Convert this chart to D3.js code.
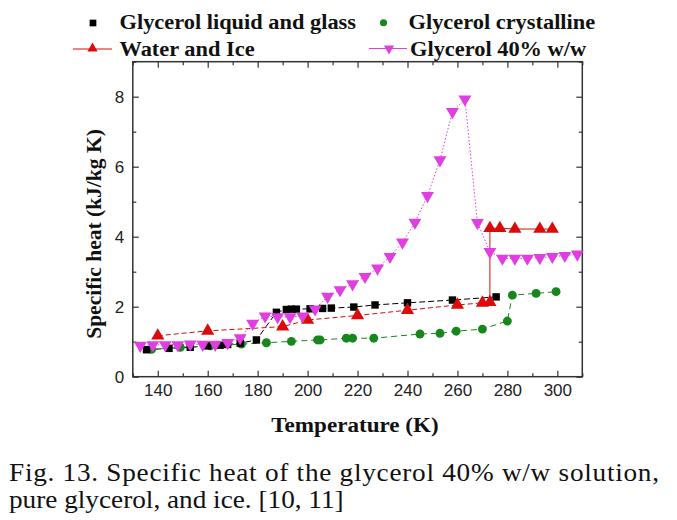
<!DOCTYPE html>
<html lang="en">
<head>
<meta charset="UTF-8">
<title>Specific heat of glycerol solution</title>
<script src="https://d3js.org/d3.v7.min.js"></script>
<style>
  body { margin: 0; background: #fff; }
  .axis .domain { display: none; }
  .axis line { stroke: #333; stroke-width: 1.2; }
  .axis text { font-family: 'Liberation Sans', Arial, sans-serif; font-size: 17px; fill: #222; }
</style>
</head>
<body>
<svg width="677" height="520"></svg>
<script>
// values (T in K, Cp in kJ/kg K)
var glassT  = [135.5, 144.5, 153, 160, 165, 168, 173, 179.5, 187.5, 191.5, 193.5, 195.5, 201, 206, 209.5, 218.5, 227, 240, 258, 275.5];
var glassCp = [0.77, 0.81, 0.84, 0.88, 0.9, 0.92, 0.96, 1.05, 1.84, 1.92, 1.93, 1.93, 1.94, 1.95, 1.96, 1.99, 2.05, 2.11, 2.19, 2.28];

var crystT  = [137.5, 149, 161, 173.5, 183.5, 193.5, 204, 205, 215.5, 218, 226.5, 245, 253, 259.5, 270, 280, 282, 291.5, 299.5];
var crystCp = [0.78, 0.84, 0.88, 0.93, 0.97, 1.01, 1.05, 1.05, 1.1, 1.1, 1.1, 1.22, 1.24, 1.3, 1.36, 1.59, 2.33, 2.38, 2.43];

var iceT  = [140, 160, 190, 200, 220, 240, 260, 270, 273];
var iceCp = [1.17, 1.31, 1.43, 1.62, 1.75, 1.9, 2.05, 2.11, 2.13];
var waterT  = [273, 277, 283, 293, 298];
var waterCp = [4.24, 4.24, 4.22, 4.22, 4.22];

var solT  = [133, 138, 143, 148, 153, 158, 163, 168, 173, 178, 183, 188, 193, 198, 203, 208, 213, 218,
             223, 228, 233, 238, 243, 248, 253, 258, 263, 268, 273, 278, 283, 288, 293, 298, 303, 308];
var solCp = [0.89, 0.91, 0.91, 0.91, 0.93, 0.92, 0.92, 0.97, 1.11, 1.52, 1.73, 1.71, 1.71, 1.73, 1.93, 2.29, 2.48, 2.65,
             2.86, 3.1, 3.43, 3.84, 4.41, 5.17, 6.19, 7.57, 7.93, 4.4, 3.57, 3.38, 3.38, 3.38, 3.4, 3.43, 3.46, 3.5];

var xMajor = [140, 160, 180, 200, 220, 240, 260, 280, 300];
var xMinor = [130, 150, 170, 190, 210, 230, 250, 270, 290, 310];
var yMajor = [0, 2, 4, 6, 8];
var yMinor = [1, 3, 5, 7, 9];

var seriesNames = ["Glycerol liquid and glass", "Glycerol crystalline", "Water and Ice", "Glycerol 40% w/w"];

var black = "#000", green = "#17861c", red = "#dc0a0a", magenta = "#e03ee0";

var svg = d3.select("svg");
var x = d3.scaleLinear().domain([130, 310]).range([132.8, 582.3]);
var y = d3.scaleLinear().domain([0, 9]).range([376.7, 61.7]);

function pts(T, C) { return T.map(function(t, i) { return [t, C[i]]; }); }
var line = d3.line().x(function(d) { return x(d[0]); }).y(function(d) { return y(d[1]); });

// frame
svg.append("rect")
    .attr("x", x(130)).attr("y", y(9))
    .attr("width", x(310) - x(130)).attr("height", y(0) - y(9))
    .attr("fill", "none").attr("stroke", "#333").attr("stroke-width", 1.5);

// ticks, all pointing in
svg.append("g").attr("class", "axis").attr("transform", "translate(0," + y(0) + ")")
    .call(d3.axisBottom(x).tickValues(xMajor).tickSize(-6).tickPadding(7));
svg.append("g").attr("class", "axis").attr("transform", "translate(0," + y(0) + ")")
    .call(d3.axisBottom(x).tickValues(xMinor).tickSize(-3.5).tickFormat(""));
svg.append("g").attr("class", "axis").attr("transform", "translate(0," + y(9) + ")")
    .call(d3.axisTop(x).tickValues(xMajor).tickSize(-6).tickFormat(""));
svg.append("g").attr("class", "axis").attr("transform", "translate(0," + y(9) + ")")
    .call(d3.axisTop(x).tickValues(xMinor).tickSize(-3.5).tickFormat(""));
svg.append("g").attr("class", "axis").attr("transform", "translate(" + x(130) + ",0)")
    .call(d3.axisLeft(y).tickValues(yMajor).tickSize(-6).tickPadding(8.5));
svg.append("g").attr("class", "axis").attr("transform", "translate(" + x(130) + ",0)")
    .call(d3.axisLeft(y).tickValues(yMinor).tickSize(-3.5).tickFormat(""));
svg.append("g").attr("class", "axis").attr("transform", "translate(" + x(310) + ",0)")
    .call(d3.axisRight(y).tickValues(yMajor).tickSize(-6).tickFormat(""));
svg.append("g").attr("class", "axis").attr("transform", "translate(" + x(310) + ",0)")
    .call(d3.axisRight(y).tickValues(yMinor).tickSize(-3.5).tickFormat(""));

// lines
function drawLine(data, color, dash, w) {
    svg.append("path").datum(data)
        .attr("d", line).attr("fill", "none")
        .attr("stroke", color).attr("stroke-width", w || 1)
        .attr("stroke-dasharray", dash);
}
drawLine(pts(glassT, glassCp), black, "6,3");
drawLine(pts(crystT, crystCp), green, "6,4");
drawLine(pts(iceT, iceCp), red, "5,3");
drawLine([[iceT[iceT.length - 1], iceCp[iceCp.length - 1]], [waterT[0], waterCp[0]]], red, null);
drawLine(pts(waterT, waterCp), red, null);
drawLine(pts(solT, solCp), magenta, "1.5,2");

// markers
function drawMarks(data, type, size, color, rot) {
    svg.append("g").selectAll("path").data(data).enter().append("path")
        .attr("d", d3.symbol().type(type).size(size))
        .attr("transform", function(d) { return "translate(" + x(d[0]) + "," + y(d[1]) + ")" + (rot ? " rotate(180)" : ""); })
        .attr("fill", color);
}
drawMarks(pts(crystT, crystCp), d3.symbolCircle, 62, green);
drawMarks(pts(glassT, glassCp), d3.symbolSquare, 55, black);
drawMarks(pts(iceT, iceCp).concat(pts(waterT, waterCp)), d3.symbolTriangle, 75, red);
drawMarks(pts(solT, solCp), d3.symbolTriangle, 72, magenta, true);

// text helper (figure is slightly stretched horizontally)
function label(px, py, str, size, bold, sx, anchor) {
    return svg.append("text")
        .attr("transform", "translate(" + px + "," + py + ") scale(" + sx + ",1)")
        .attr("font-family", "'Liberation Serif', 'Times New Roman', serif")
        .attr("font-size", size)
        .attr("font-weight", bold ? "bold" : "normal")
        .attr("text-anchor", anchor || "start")
        .attr("fill", "#111")
        .text(str);
}

// legend
svg.append("path").attr("d", d3.symbol().type(d3.symbolSquare).size(45)).attr("transform", "translate(93,23)").attr("fill", black);
label(119.5, 28.5, seriesNames[0], 20, true, 1.12);
svg.append("path").attr("d", d3.symbol().type(d3.symbolCircle).size(40)).attr("transform", "translate(383.5,22.7)").attr("fill", green);
label(408.5, 28.5, seriesNames[1], 20, true, 1.12);
svg.append("line").attr("x1", 73).attr("x2", 112).attr("y1", 49).attr("y2", 49).attr("stroke", red);
svg.append("path").attr("d", d3.symbol().type(d3.symbolTriangle).size(45)).attr("transform", "translate(92.5,48.5)").attr("fill", red);
label(119.5, 55.5, seriesNames[2], 20, true, 1.12);
svg.append("line").attr("x1", 369).attr("x2", 407).attr("y1", 48.5).attr("y2", 48.5).attr("stroke", magenta);
svg.append("path").attr("d", d3.symbol().type(d3.symbolTriangle).size(45)).attr("transform", "translate(389,48.5) rotate(180)").attr("fill", magenta);
label(410, 55.5, seriesNames[3], 20, true, 1.12);

// axis titles
label(355, 431.5, "Temperature (K)", 21, true, 1.1, "middle");
svg.append("text")
    .attr("transform", "translate(101,234) rotate(-90)")
    .attr("font-family", "'Liberation Serif', 'Times New Roman', serif")
    .attr("font-size", 21.5).attr("font-weight", "bold")
    .attr("text-anchor", "middle").attr("fill", "#111")
    .text("Specific heat (kJ/kg K)");

// caption
label(9, 481, "Fig. 13. Specific heat of the glycerol 40% w/w solution,", 25, false, 1.09)
    .attr("textLength", 650 / 1.09).attr("lengthAdjust", "spacing");
label(9, 508, "pure glycerol, and ice. [10, 11]", 25, false, 1.09);
</script>
</body>
</html>
